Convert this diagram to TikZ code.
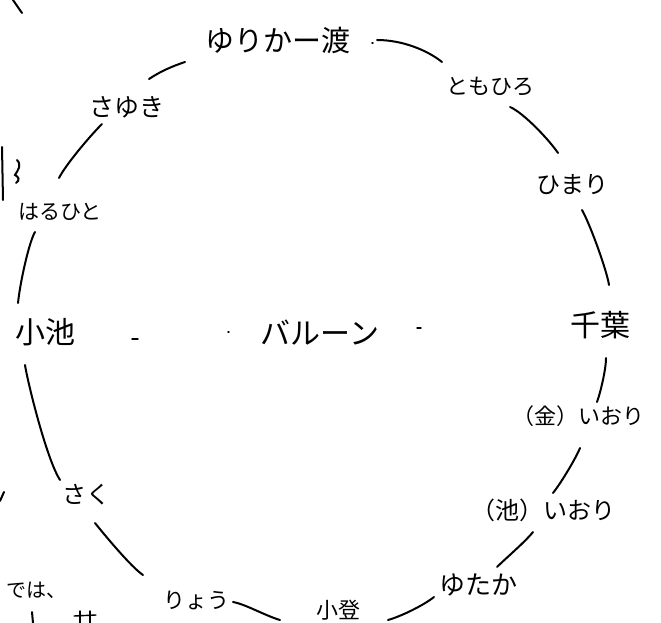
\documentclass[tikz,border=0pt]{standalone}
\usepackage{fontspec}
\newfontfamily\jp{Noto Sans CJK JP}
\newcommand{\jfs}[1]{\jp\fontsize{#1}{#1}\selectfont}
\usetikzlibrary{calc}
\begin{document}
\begin{tikzpicture}[x=1pt,y=-1pt,
  lbl/.style={inner sep=0pt, anchor=center, text=black},
  conn/.style={line width=2pt, line cap=round, draw=black},
  speck/.style={line width=1.4pt, line cap=round, draw=black}]
\useasboundingbox[fill=white] (0,0) rectangle (661,623);
\clip (0,0) rectangle (661,623);

% names
\node[lbl, font=\jfs{29}] (yur)   at (278,40)  {ゆりかー渡};
\node[lbl, font=\jfs{22}] (tomo)  at (490,87)  {ともひろ};
\node[lbl, font=\jfs{24}] (him)   at (572,185) {ひまり};
\node[lbl, font=\jfs{30}] (chiba) at (600,325) {千葉};
\node[lbl, font=\jfs{22}] (kin)   at (578,416) {（金）いおり};
\node[lbl, font=\jfs{24}] (ike)   at (543,510) {（池）いおり};
\node[lbl, font=\jfs{26}] (yut)   at (478,585) {ゆたか};
\node[lbl, font=\jfs{22}] (kono)  at (338,610) {小登};
\node[lbl, font=\jfs{22}] (ryo)   at (196,600) {りょう};
\node[lbl, font=\jfs{24}] (saku)  at (86,495)  {さく};
\node[lbl, font=\jfs{30}] (koike) at (45,332)  {小池};
\node[lbl, font=\jfs{21}] (haru)  at (60,212)  {はるひと};
\node[lbl, font=\jfs{25}] (sayu)  at (127,107) {さゆき};
\node[lbl, font=\jfs{30}] (bal)   at (320,333) {バルーン};
\node[lbl, font=\jfs{20}] (deha)  at (36,590)  {では、};

% ring of connectors
\draw[conn] ($(yur)+(99,0)$) .. controls +(25,0) and +(-15,-12) .. ($(tomo)+(-48,-25)$);
\draw[conn] ($(sayu)+(22,-28)$) .. controls +(12,-8) and +(-12,4) .. ($(yur)+(-93,22)$);
\draw[conn] ($(sayu)+(-25,17)$) .. controls +(-14,14) and +(6,-12) .. ($(haru)+(-1,-34)$);
\draw[conn] ($(tomo)+(20,20)$) .. controls +(14,6) and +(-8,-12) .. ($(him)+(-14,-32)$);
\draw[conn] ($(him)+(10,25)$) .. controls +(8,14) and +(-2,-14) .. ($(chiba)+(9,-40)$);
\draw[conn] ($(chiba)+(6,33)$) .. controls +(0,12) and +(3,-8) .. ($(kin)+(19,-14)$);
\draw[conn] ($(kin)+(2,32)$) .. controls +(-4,10) and +(8,-10) .. ($(ike)+(10,-17)$);
\draw[conn] ($(ike)+(-10,22)$) .. controls +(-8,10) and +(8,-8) .. ($(yut)+(19,-18)$);
\draw[conn] ($(yut)+(-44,12)$) .. controls +(-10,8) and +(14,-4) .. ($(kono)+(50,10)$);
\draw[conn] ($(kono)+(-58,10)$) .. controls +(-14,-4) and +(12,2) .. ($(ryo)+(37,2)$);
\draw[conn] ($(ryo)+(-53,-25)$) .. controls +(-12,-8) and +(8,10) .. ($(saku)+(9,28)$);
\draw[conn] ($(saku)+(-26,-15)$) .. controls +(-14,-22) and +(2,14) .. ($(koike)+(-20,33)$);
\draw[conn] ($(koike)+(-27,-29)$) .. controls +(2,-20) and +(-6,10) .. ($(haru)+(-25,20)$);

% small marks around the centre
\draw[speck] ($(bal)+(-188,6)$) -- ($(bal)+(-182,6)$);
\draw[speck] ($(bal)+(-92,-1)$) -- ($(bal)+(-91,-1)$);
\draw[speck] ($(bal)+(97,-5)$) -- ($(bal)+(101,-5)$);
\draw[speck] ($(yur)+(94,3)$) -- ($(yur)+(95,3)$);

% fragments at the edges
\draw[conn] (13,0) -- (22,13);
\draw[conn] (2,147) -- (3,200);
\draw[conn] (17,160) .. controls (22,165) and (18,170) .. (15,175) .. controls (19,177) and (20,180) .. (16,183);
\draw[conn] (0,501) -- (4,492);
\draw[conn] (32,612) -- (33,623);
\draw[speck] (74,616) -- (96,615);
\draw[speck] (80,611) -- (80,623);
\draw[speck] (90,611) -- (90,623);
\end{tikzpicture}
\end{document}
